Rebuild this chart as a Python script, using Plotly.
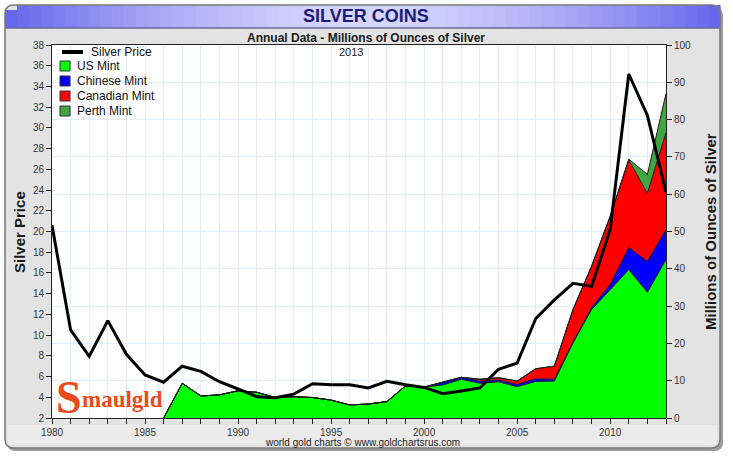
import plotly.graph_objects as go

price_years = list(range(1980, 2014))
silver_price = [20.6, 10.5, 7.95, 11.4, 8.15, 6.15, 5.45, 7.0, 6.5, 5.5, 4.8, 4.05, 3.95, 4.3,
                5.3, 5.2, 5.2, 4.9, 5.55, 5.2, 4.95, 4.35, 4.6, 4.9, 6.7, 7.3, 11.6, 13.4,
                15.0, 14.7, 20.2, 35.2, 31.2, 23.8]

mint_years = list(range(1986, 2014))
us_mint = [0, 9.3, 5.9, 6.2, 7.3, 6.9, 5.5, 5.7, 5.5, 4.8, 3.5, 3.75, 4.4, 8.6, 8.3, 8.85,
           10.4, 9.3, 9.7, 8.4, 9.8, 9.9, 20.1, 29.1, 34.4, 39.8, 33.7, 42.5]
chinese_mint = [0, 0, 0, 0, 0, 0, 0, 0, 0, 0, 0, 0, 0, 0, 0, 0.65,
                0.5, 0.6, 0.5, 0.6, 0.7, 0.5, 0.3, 0.5, 1.4, 5.9, 8.3, 8.0]
canadian_mint = [0, 0, 0, 0, 0, 0, 0, 0, 0, 0, 0, 0, 0, 0, 0, 0,
                 0, 0.5, 0.6, 0.9, 2.7, 3.5, 8.7, 11.1, 18.3, 23.5, 18.2, 26.0]
perth_mint = [0, 0, 0, 0, 0, 0, 0, 0, 0, 0, 0, 0, 0, 0, 0, 0,
              0, 0, 0, 0, 0, 0, 0, 0, 0, 0.2, 5.1, 10.5]

series_names = ["US Mint", "Chinese Mint", "Canadian Mint", "Perth Mint"]
series_colors = ["#00ff00", "#0000ff", "#ff0000", "#42a442"]

W, H = 733, 463
L, R, T, B = 52, 666, 45, 418


def px(X):
    return (X - L) / (R - L)


def py(Y):
    return (B - Y) / (B - T)


fig = go.Figure()

for name, vals, col in zip(series_names, [us_mint, chinese_mint, canadian_mint, perth_mint],
                           series_colors):
    fig.add_trace(go.Scatter(x=mint_years, y=vals, name=name, mode="lines",
                             stackgroup="mints", fillcolor=col,
                             line=dict(color="#1a1a1a", width=1), yaxis="y"))
fig.add_trace(go.Scatter(x=price_years, y=silver_price, name="Silver Price", mode="lines",
                         line=dict(color="black", width=3), yaxis="y2"))

shapes = []


def rounded_path(x0, y0, x1, y1, r, top_only=False):
    rx = r / (R - L)
    ry = r / (B - T)
    X0, X1 = px(x0), px(x1)
    Yt, Yb = py(y0), py(y1)
    if top_only:
        return (f"M {X0},{Yb} L {X0},{Yt - ry} Q {X0},{Yt} {X0 + rx},{Yt} "
                f"L {X1 - rx},{Yt} Q {X1},{Yt} {X1},{Yt - ry} L {X1},{Yb} Z")
    return (f"M {X0},{Yb + ry} L {X0},{Yt - ry} Q {X0},{Yt} {X0 + rx},{Yt} "
            f"L {X1 - rx},{Yt} Q {X1},{Yt} {X1},{Yt - ry} L {X1},{Yb + ry} "
            f"Q {X1},{Yb} {X1 - rx},{Yb} L {X0 + rx},{Yb} Q {X0},{Yb} {X0},{Yb + ry} Z")


shapes.append(dict(type="path", xref="paper", yref="paper", layer="below",
                   path=rounded_path(7, 7, 723, 451, 9), fillcolor="#9a9a9a", line=dict(width=0)))
shapes.append(dict(type="path", xref="paper", yref="paper", layer="below",
                   path=rounded_path(5, 5, 720, 448, 9), fillcolor="#e3e3e3", line=dict(width=0)))
shapes.append(dict(type="rect", xref="paper", yref="paper", layer="below",
                   x0=px(8), x1=px(717), y0=py(445), y1=py(425), fillcolor="#ebebeb", line=dict(width=0)))
N = 60
c_edge = (100, 100, 236)
c_mid = (214, 214, 255)
x_start, x_end = 5, 720
for i in range(N):
    a = x_start + (x_end - x_start) * i / N
    b = x_start + (x_end - x_start) * (i + 1) / N
    t = abs(((a + b) / 2 - (x_start + x_end) / 2) / ((x_end - x_start) / 2))
    t = min(1, t) ** 1.6
    c = tuple(int(c_mid[k] + (c_edge[k] - c_mid[k]) * t) for k in range(3))
    y_top = 5 if 14 < a < 711 else 10
    shapes.append(dict(type="rect", xref="paper", yref="paper", layer="below",
                       x0=px(a), x1=px(b + 0.6), y0=py(28), y1=py(y_top),
                       fillcolor=f"rgb{c}", line=dict(width=0)))
shapes.append(dict(type="line", xref="paper", yref="paper", layer="below",
                   x0=px(5), x1=px(720), y0=py(28), y1=py(28), line=dict(color="#6a6a9a", width=1.5)))
shapes.append(dict(type="path", xref="paper", yref="paper", layer="below",
                   path=rounded_path(5, 5, 720, 448, 9), fillcolor="rgba(0,0,0,0)",
                   line=dict(color="#7a7a7a", width=1.5)))
shapes.append(dict(type="rect", xref="paper", yref="paper", layer="below",
                   x0=0, x1=1, y0=0, y1=1, fillcolor="white", line=dict(width=0)))

annotations = [
    dict(text="<b>SILVER COINS</b>", x=px(366), y=py(16), xref="paper", yref="paper",
         showarrow=False, font=dict(size=18, color="#1c1c78", family="Liberation Sans"),
         xanchor="center", yanchor="middle"),
    dict(text="<b>Annual Data - Millions of Ounces of Silver</b>", x=px(366), y=py(38),
         xref="paper", yref="paper", showarrow=False,
         font=dict(size=12, color="#1a1a1a", family="Liberation Sans"),
         xanchor="center", yanchor="middle"),
    dict(text="2013", x=px(351), y=py(52), xref="paper", yref="paper", showarrow=False,
         font=dict(size=11, color="#222", family="Liberation Sans"), xanchor="center", yanchor="middle"),
    dict(text="<b>Silver Price</b>", x=px(19), y=py(232), xref="paper", yref="paper",
         showarrow=False, textangle=-90, font=dict(size=15, color="#1a1a1a", family="Liberation Sans"),
         xanchor="center", yanchor="middle"),
    dict(text="<b>Millions of Ounces of Silver</b>", x=px(710), y=py(232), xref="paper", yref="paper",
         showarrow=False, textangle=-90, font=dict(size=15, color="#1a1a1a", family="Liberation Sans"),
         xanchor="center", yanchor="middle"),
    dict(text="world gold charts \u00a9 www.goldchartsrus.com", x=px(362), y=py(442),
         xref="paper", yref="paper", showarrow=False,
         font=dict(size=10, color="#222", family="Liberation Sans"), xanchor="center", yanchor="middle"),
    dict(text="<b>S</b>", x=px(69), y=py(397), xref="paper", yref="paper", showarrow=False,
         font=dict(size=46, color="#ec4a1c", family="Liberation Serif"), xanchor="center", yanchor="middle"),
    dict(text="<b>maulgld</b>", x=px(80), y=py(399), xref="paper", yref="paper", showarrow=False,
         font=dict(size=23, color="#ec4a1c", family="Liberation Serif"), xanchor="left", yanchor="middle"),
]

leg_font = dict(size=12, color="#111", family="Liberation Sans")
shapes.append(dict(type="line", xref="paper", yref="paper", x0=px(62), x1=px(83), y0=py(52), y1=py(52),
                   line=dict(color="black", width=4)))
annotations.append(dict(text="Silver Price", x=px(89), y=py(52), xref="paper", yref="paper",
                        showarrow=False, font=leg_font, xanchor="left", yanchor="middle"))
for i, (name, col) in enumerate(zip(series_names, series_colors)):
    yc = 66 + 15 * i
    shapes.append(dict(type="rect", xref="paper", yref="paper", x0=px(60), x1=px(70),
                       y0=py(yc + 5), y1=py(yc - 5), fillcolor=col, line=dict(color="#333", width=1)))
    annotations.append(dict(text=name, x=px(75), y=py(yc), xref="paper", yref="paper",
                            showarrow=False, font=leg_font, xanchor="left", yanchor="middle"))

grid = "#e2edf8"
tickfont = dict(size=10, color="#333", family="Liberation Sans")

fig.update_layout(
    width=W, height=H,
    margin=dict(l=L, r=W - R, t=T, b=H - B, pad=0),
    paper_bgcolor="white", plot_bgcolor="white",
    showlegend=False,
    hovermode=False,
    xaxis=dict(range=[1980, 2013], tick0=1980, dtick=5, showgrid=True, gridcolor=grid,
               ticks="outside", ticklen=5, tickcolor="#222", showline=True, linecolor="#222",
               linewidth=1, mirror=True, zeroline=False, tickfont=tickfont,
               minor=dict(dtick=1, tick0=1980, ticks="outside", ticklen=5, tickcolor="#222",
                          showgrid=True, gridcolor=grid)),
    yaxis=dict(range=[0, 100], dtick=10, side="right", showgrid=True, gridcolor=grid,
               ticks="outside", ticklen=5, tickcolor="#222", showline=True, linecolor="#222",
               zeroline=False, tickfont=tickfont),
    yaxis2=dict(range=[2, 38], dtick=2, tick0=2, side="left", overlaying="y", showgrid=False,
                ticks="outside", ticklen=5, tickcolor="#222", showline=True, linecolor="#222",
                zeroline=False, tickfont=tickfont),
    shapes=shapes,
    annotations=annotations,
)

fig.write_html("out.html", config={"displayModeBar": False},
               post_script="document.body.style.margin='0';")
